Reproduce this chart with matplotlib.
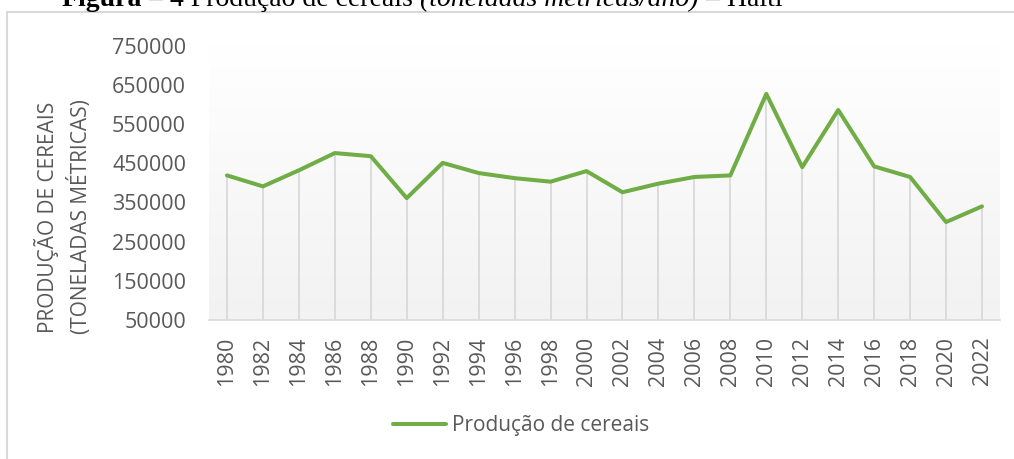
import numpy as np
import matplotlib
matplotlib.use("Agg")
import matplotlib.pyplot as plt
from matplotlib.patches import Rectangle

years = [str(y) for y in range(1980, 2023, 2)]
production = [419000, 391000, 432000, 476000, 468000, 361000, 451000, 425000,
              412000, 403000, 430000, 376000, 398000, 415000, 419000, 627000,
              440000, 586000, 442000, 415000, 300000, 340000]
y_ticks = [50000, 150000, 250000, 350000, 450000, 550000, 650000, 750000]
series_name = "Produção de cereais"
y_label = "PRODUÇÃO DE CEREAIS\n(TONELADAS MÉTRICAS)"
title_pieces = ["Figura", " – 4 Produção de cereais ", "(toneladas métricas/ano)", " – Haiti"]

W, H = 1014, 459
fig = plt.figure(figsize=(W / 100, H / 100), dpi=100)
fig.patch.set_facecolor("white")

def fx(px):
    return px / W

def fy(py):
    return 1 - py / H

# chart border (cut at right/bottom)
fig.patches.append(Rectangle((fx(7), fy(H + 20)), fx(W + 50), fy(12) - fy(H + 20),
                             transform=fig.transFigure, fill=False,
                             edgecolor="#d9d9d9", lw=1.5))

left, right, top, bottom = 209, 1000, 45.7, 320
ax = fig.add_axes([fx(left), fy(bottom), fx(right - left), fy(top) - fy(bottom)])
x = np.arange(len(years))
ax.set_xlim(-0.5, len(years) - 0.5)
ax.set_ylim(y_ticks[0], y_ticks[-1])

# gradient background
grad = np.linspace(0, 1, 256).reshape(-1, 1)
c_top = np.array([1.0, 1.0, 1.0])
c_bot = np.array([0xf2, 0xf2, 0xf2]) / 255.0
img = c_top[None, None, :] * (1 - grad[:, :, None]) + c_bot[None, None, :] * grad[:, :, None]
ax.imshow(img, extent=[-0.5, len(years) - 0.5, y_ticks[0], y_ticks[-1]],
          aspect="auto", origin="upper", zorder=0)

ax.vlines(x, y_ticks[0], production, color="#d9d9d9", lw=1.3, zorder=1)
ax.plot(x, production, color="#70ad47", lw=2.9, solid_joinstyle="round",
        solid_capstyle="round", zorder=3, label=series_name)

for s in ["top", "left", "right"]:
    ax.spines[s].set_visible(False)
ax.spines["bottom"].set_color("#d9d9d9")
ax.spines["bottom"].set_linewidth(1.2)
ax.spines["bottom"].set_zorder(2)

ax.set_yticks(y_ticks)
ax.set_yticklabels([str(v) for v in y_ticks])
ax.set_xticks(x)
ax.set_xticklabels(years, rotation=90)
ax.tick_params(axis="both", length=0, colors="#595959", labelsize=15.5)
ax.tick_params(axis="y", pad=16.5)
ax.tick_params(axis="x", pad=12)
for lab in ax.get_xticklabels() + ax.get_yticklabels():
    lab.set_fontfamily("Open Sans")

fig.text(fx(63), fy(217), y_label, rotation=90, ha="center", va="center",
         fontsize=15, color="#595959", family="Open Sans", linespacing=1.45,
         multialignment="center")

leg = fig.legend(loc="center", bbox_to_anchor=(fx(521), fy(426)), frameon=False,
                 prop={"family": "Open Sans", "size": 15}, handlelength=2.55,
                 handletextpad=0.25, borderpad=0)
for t in leg.get_texts():
    t.set_color("#595959")

# title (cut at top of image)
renderer = fig.canvas.get_renderer()
styles = [("bold", "normal"), ("normal", "normal"), ("normal", "italic"), ("normal", "normal")]
xpos = 62
for txt, (wt, st) in zip(title_pieces, styles):
    t = fig.text(fx(xpos), fy(6), txt, ha="left", va="baseline", fontsize=20,
                 family="Liberation Serif", weight=wt, style=st, color="black")
    bb = t.get_window_extent(renderer=renderer)
    xpos += bb.width

fig.savefig("out.png", dpi=100)
